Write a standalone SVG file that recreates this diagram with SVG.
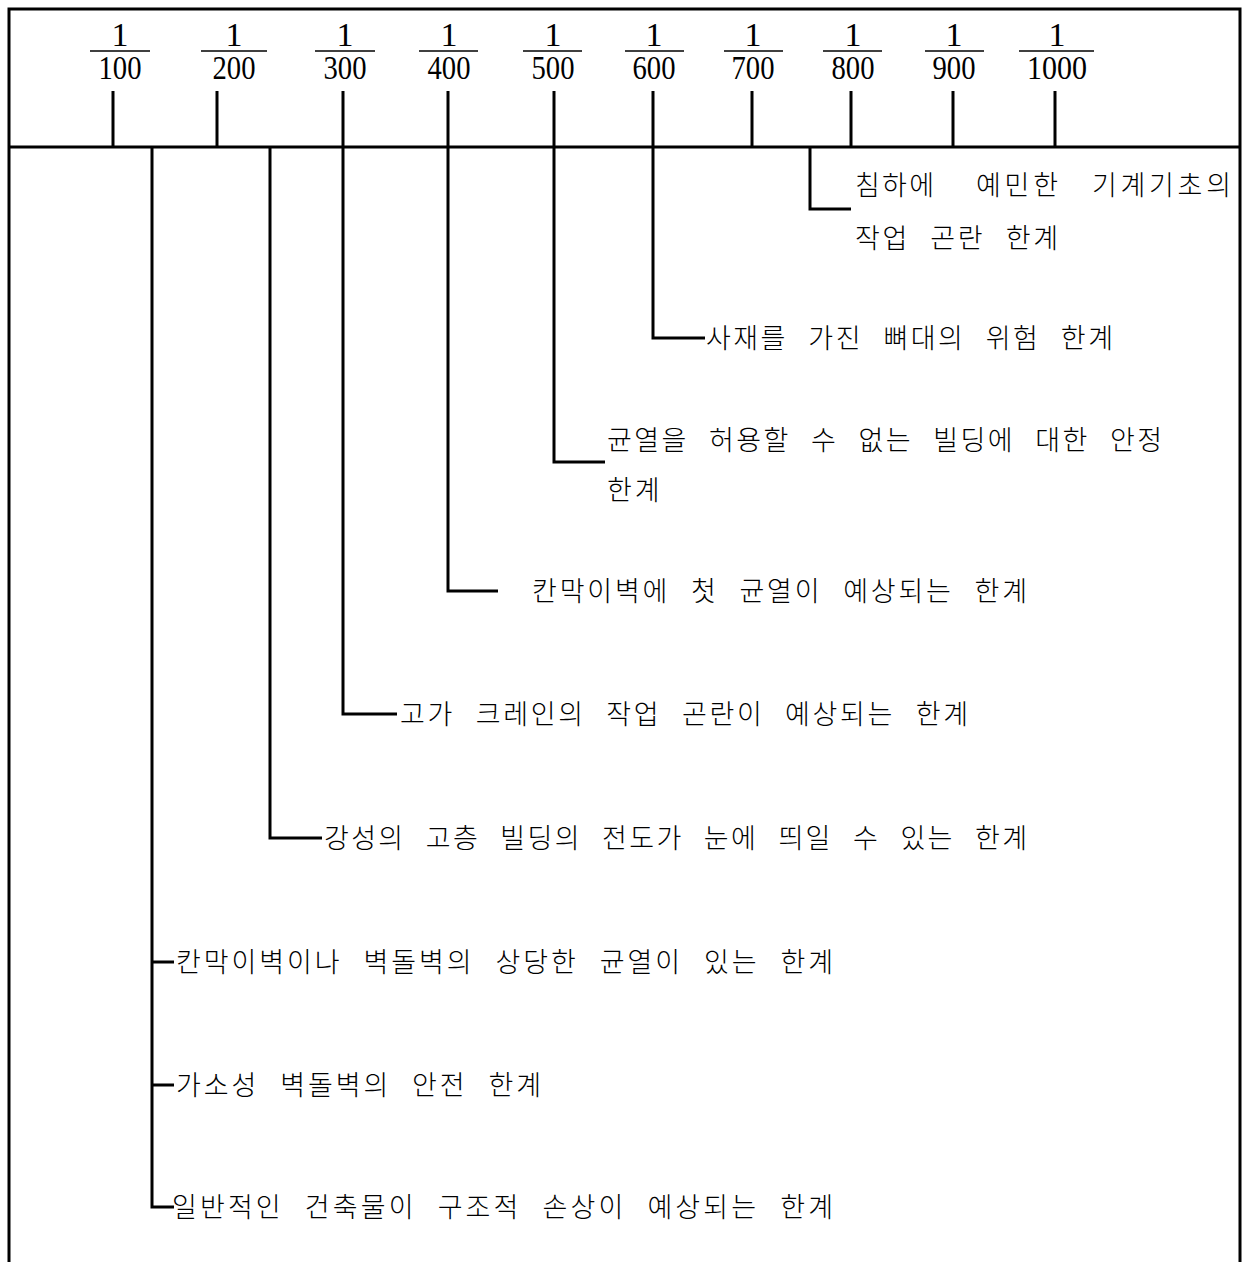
<svg xmlns="http://www.w3.org/2000/svg" width="1244" height="1262" viewBox="0 0 1244 1262">
<style>
.ln{fill:none;stroke:#000;stroke-width:3;stroke-linecap:butt;stroke-linejoin:miter}
.fb{stroke:#000;stroke-width:1.5}
.num{font-family:"Liberation Serif","DejaVu Serif",serif;font-size:34px;text-anchor:middle;fill:#000}
.kr{font-family:"Noto Sans CJK KR",sans-serif;font-size:27px;font-weight:300;letter-spacing:3px;word-spacing:12px;fill:#000}
</style>
<rect width="1244" height="1262" fill="#fff"/>
<g id="frame">
<path class="ln" d="M9 1262V9H1240V1262"/>
<path class="ln" d="M9 147H1240"/>
</g>
<g id="scale">
<g id="s100"><text class="num" x="120" y="46">1</text><line class="fb" x1="90" y1="51" x2="150" y2="51"/><text class="num" x="120" y="79" textLength="43" lengthAdjust="spacingAndGlyphs">100</text></g>
<g id="s200"><text class="num" x="234" y="46">1</text><line class="fb" x1="201" y1="51" x2="267" y2="51"/><text class="num" x="234" y="79" textLength="43" lengthAdjust="spacingAndGlyphs">200</text></g>
<g id="s300"><text class="num" x="345" y="46">1</text><line class="fb" x1="315" y1="51" x2="375" y2="51"/><text class="num" x="345" y="79" textLength="43" lengthAdjust="spacingAndGlyphs">300</text></g>
<g id="s400"><text class="num" x="449" y="46">1</text><line class="fb" x1="419" y1="51" x2="478" y2="51"/><text class="num" x="449" y="79" textLength="43" lengthAdjust="spacingAndGlyphs">400</text></g>
<g id="s500"><text class="num" x="553" y="46">1</text><line class="fb" x1="523" y1="51" x2="582" y2="51"/><text class="num" x="553" y="79" textLength="43" lengthAdjust="spacingAndGlyphs">500</text></g>
<g id="s600"><text class="num" x="654" y="46">1</text><line class="fb" x1="625" y1="51" x2="684" y2="51"/><text class="num" x="654" y="79" textLength="43" lengthAdjust="spacingAndGlyphs">600</text></g>
<g id="s700"><text class="num" x="753" y="46">1</text><line class="fb" x1="724" y1="51" x2="783" y2="51"/><text class="num" x="753" y="79" textLength="43" lengthAdjust="spacingAndGlyphs">700</text></g>
<g id="s800"><text class="num" x="853" y="46">1</text><line class="fb" x1="823" y1="51" x2="882" y2="51"/><text class="num" x="853" y="79" textLength="43" lengthAdjust="spacingAndGlyphs">800</text></g>
<g id="s900"><text class="num" x="954" y="46">1</text><line class="fb" x1="925" y1="51" x2="984" y2="51"/><text class="num" x="954" y="79" textLength="43" lengthAdjust="spacingAndGlyphs">900</text></g>
<g id="s1000"><text class="num" x="1057" y="46">1</text><line class="fb" x1="1019" y1="51" x2="1094" y2="51"/><text class="num" x="1057" y="79" textLength="60" lengthAdjust="spacingAndGlyphs">1000</text></g>
</g>
<g id="connectors">
<path class="ln" d="M113 91V147M217 91V147M343 91V147M448 91V147M554 91V147M653 91V147M752 91V147M851 91V147M953 91V147M1055 91V147"/>
<path class="ln" d="M152 147V1207H174M152 962H174M152 1085H174"/>
<path class="ln" d="M270 147V838H322"/>
<path class="ln" d="M343 147V714H397"/>
<path class="ln" d="M448 147V591H498"/>
<path class="ln" d="M554 147V462H605"/>
<path class="ln" d="M653 147V338H705"/>
<path class="ln" d="M810 147V209H851"/>
</g>
<g id="n800"><text class="kr" y="195"><tspan x="855" textLength="82" lengthAdjust="spacing">침하에</tspan> <tspan x="976" textLength="85" lengthAdjust="spacing">예민한</tspan> <tspan x="1092" textLength="142" lengthAdjust="spacing">기계기초의</tspan></text><text class="kr" x="855" y="248" textLength="206" lengthAdjust="spacing">작업 곤란 한계</text></g>
<g id="n600"><text class="kr" x="706" y="348" textLength="410" lengthAdjust="spacing">사재를 가진 뼈대의 위험 한계</text></g>
<g id="n500"><text class="kr" x="607" y="450" textLength="558" lengthAdjust="spacing">균열을 허용할 수 없는 빌딩에 대한 안정</text><text class="kr" x="607" y="500">한계</text></g>
<g id="n400"><text class="kr" x="532" y="601" textLength="498" lengthAdjust="spacing">칸막이벽에 첫 균열이 예상되는 한계</text></g>
<g id="n300"><text class="kr" x="400" y="724" textLength="571" lengthAdjust="spacing">고가 크레인의 작업 곤란이 예상되는 한계</text></g>
<g id="n200"><text class="kr" x="324" y="848" textLength="706" lengthAdjust="spacing">강성의 고층 빌딩의 전도가 눈에 띄일 수 있는 한계</text></g>
<g id="n100a"><text class="kr" x="176" y="972" textLength="660" lengthAdjust="spacing">칸막이벽이나 벽돌벽의 상당한 균열이 있는 한계</text></g>
<g id="n100b"><text class="kr" x="176" y="1095" textLength="368" lengthAdjust="spacing">가소성 벽돌벽의 안전 한계</text></g>
<g id="n100c"><text class="kr" x="172" y="1217" textLength="664" lengthAdjust="spacing">일반적인 건축물이 구조적 손상이 예상되는 한계</text></g>
</svg>
